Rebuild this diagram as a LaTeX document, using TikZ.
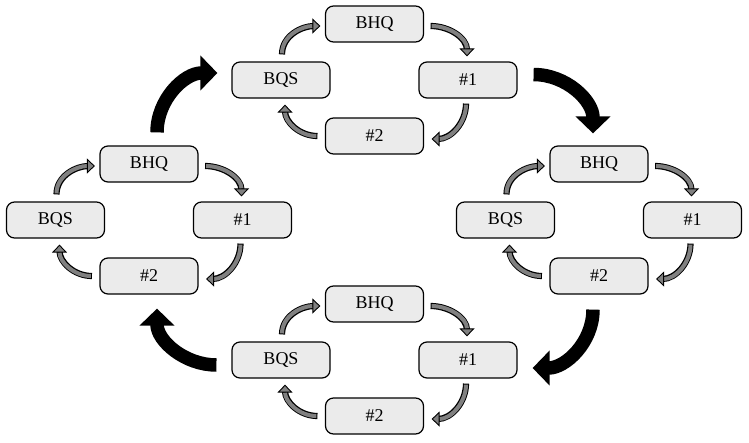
\documentclass[tikz,border=0pt]{standalone}
\usepackage{fontspec}
\setmainfont{Liberation Serif}
\usetikzlibrary{arrows.meta}
\definecolor{boxfill}{HTML}{EBEBEB}
\definecolor{arrgray}{HTML}{808080}
\tikzset{
  box/.style={draw=black, line width=1.2pt, fill=boxfill, rounded corners=8pt,
    minimum width=98pt, minimum height=36pt, inner sep=0pt,
    font=\fontsize{18}{20}\selectfont},
  garrow/.style={draw=arrgray, line width=4pt, shorten <=1pt,
    -{Triangle[length=8pt,width=15pt,color=black,fill=arrgray,line width'=0.9pt]},
    preaction={draw=black, line width=6.2pt, shorten <=0pt, shorten >=6.5pt, arrows=-}},
  barrow/.style={draw=black, line width=13.5pt, -{Triangle[length=17pt,width=34pt]}}
}
\newcommand{\mycycle}[3]{%
  \node[box] (#1-bhq) at (#2,#3-56) {BHQ};
  \node[box] (#1-n1) at (#2+93.5,#3) {\#1};
  \node[box] (#1-n2) at (#2,#3+56) {\#2};
  \node[box] (#1-bqs) at (#2-93.5,#3) {BQS};
  \draw[garrow] ([xshift=6.5pt,yshift=-2pt]#1-bhq.east) to[out=0,in=90] ([xshift=-1pt,yshift=5pt]#1-n1.north);
  \draw[garrow] ([xshift=-2pt,yshift=-5pt]#1-n1.south) to[out=-90,in=0] ([xshift=7.5pt,yshift=-3pt]#1-n2.east);
  \draw[garrow] ([xshift=-7.5pt,yshift=0pt]#1-n2.west) to[out=180,in=-90] ([xshift=4pt,yshift=-6pt]#1-bqs.south);
  \draw[garrow] ([xshift=1pt,yshift=7pt]#1-bqs.north) to[out=90,in=180] ([xshift=-4.5pt,yshift=-2pt]#1-bhq.west);
}
\begin{document}
\begin{tikzpicture}[x=1pt,y=-1pt]
  \useasboundingbox (0,0) rectangle (749,442);
  \mycycle{T}{374.5}{80}
  \mycycle{L}{149}{220}
  \mycycle{R}{599}{220}
  \mycycle{B}{374.5}{360}
  \draw[barrow] ([xshift=8pt,yshift=13pt]L-bhq.north) to[out=90,in=180] ([xshift=-14pt,yshift=7pt]T-bqs.west);
  \draw[barrow] ([xshift=16pt,yshift=5.5pt]T-n1.east) to[out=0,in=90] ([xshift=-6pt,yshift=12pt]R-bhq.north);
  \draw[barrow] ([xshift=-6pt,yshift=-15pt]R-n2.south) to[out=-90,in=0] ([xshift=15pt,yshift=-8pt]B-n1.east);
  \draw[barrow] ([xshift=-15pt,yshift=-5pt]B-bqs.west) to[out=180,in=-90] ([xshift=8pt,yshift=-14pt]L-n2.south);
\end{tikzpicture}
\end{document}
